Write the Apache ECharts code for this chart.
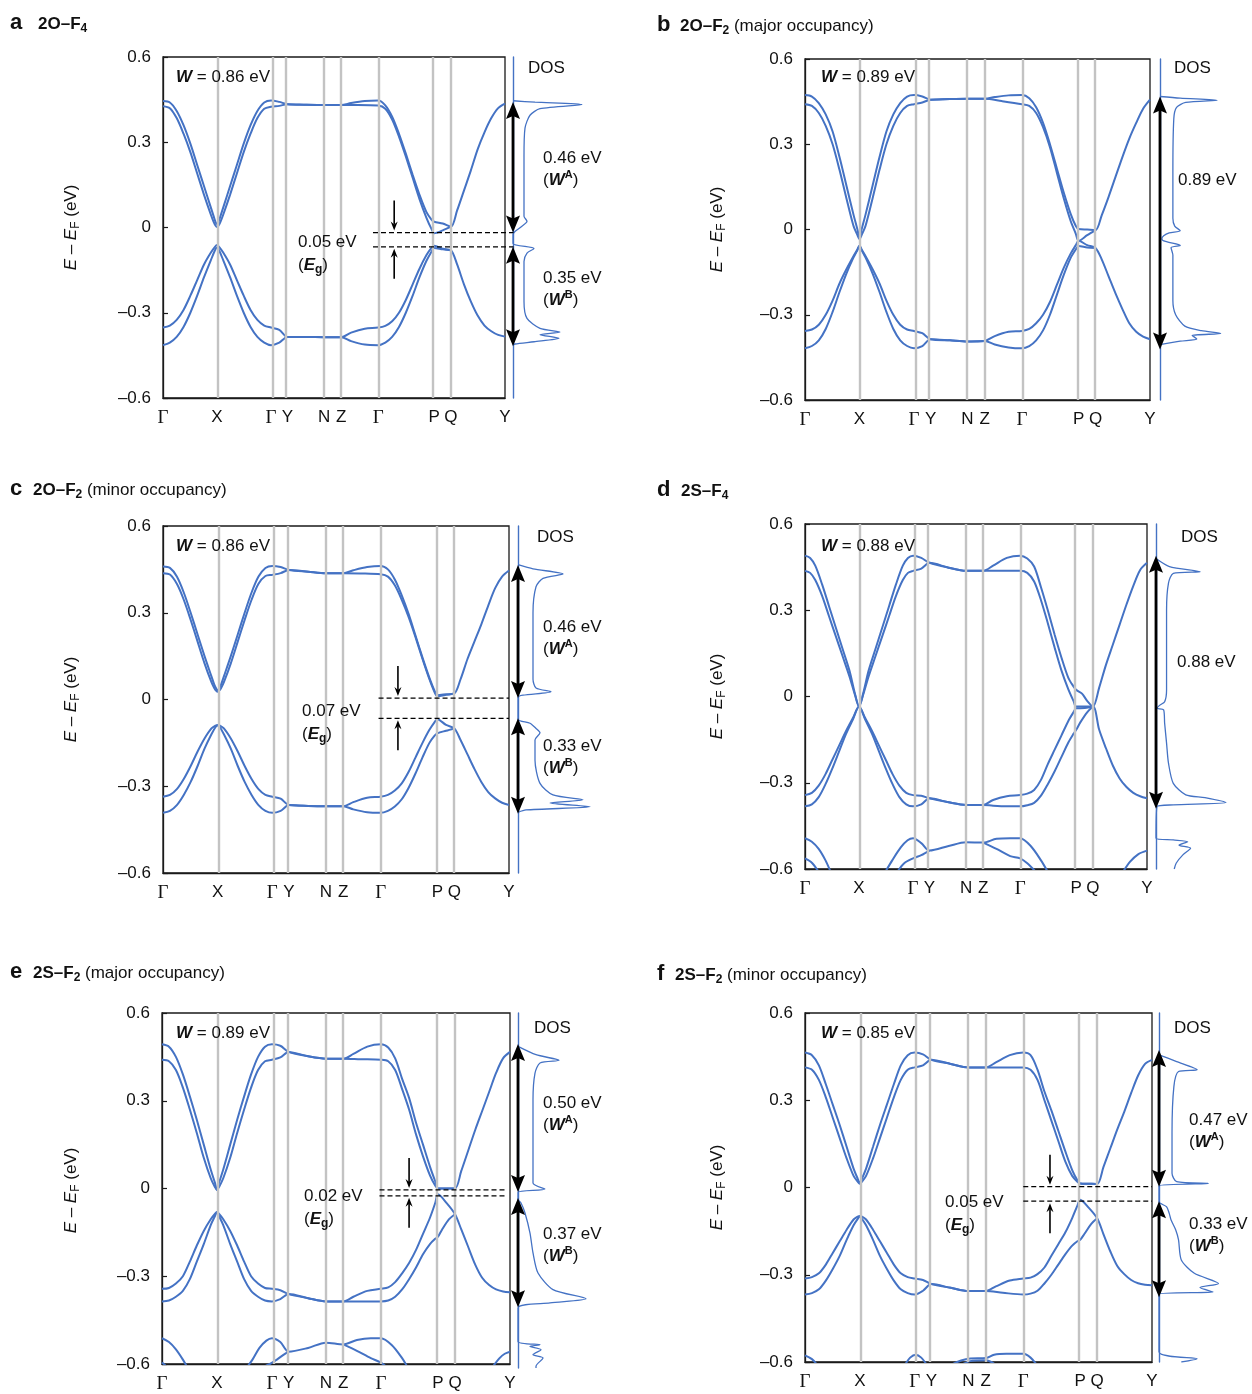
<!DOCTYPE html>
<html>
<head>
<meta charset="utf-8">
<script src="https://cdn.jsdelivr.net/npm/echarts@6/dist/echarts.min.js"></script>
<style>
html, body { margin: 0; padding: 0; background: #fff; }
#chart { width: 1252px; height: 1394px; }
</style>
</head>
<body>
<div id="chart"></div>
<script>
// High-symmetry path (fraction of total k-path length) and its labels
const kTicks = [0, 0.158, 0.316, 0.364, 0.471, 0.521, 0.629, 0.793, 0.842, 1];
const kNames = ['Γ', 'X', 'Γ', 'Y', 'N', 'Z', 'Γ', 'P', 'Q', 'Y'];

// ---------- a: 2O–F4 ----------
const aUp1 = [[0,0.445],[0.02,0.44],[0.04,0.41],[0.06,0.36],[0.08,0.295],[0.1,0.22],[0.12,0.145],[0.14,0.07],[0.148,0.04],[0.154,0.018],[0.158,0.012],[0.162,0.018],[0.168,0.04],[0.176,0.07],[0.196,0.145],[0.216,0.22],[0.236,0.295],[0.256,0.36],[0.276,0.41],[0.296,0.44],[0.316,0.447],[0.34,0.442],[0.364,0.434],[0.42,0.432],[0.471,0.431],[0.521,0.431],[0.55,0.438],[0.59,0.445],[0.629,0.447],[0.65,0.43],[0.67,0.39],[0.69,0.33],[0.71,0.26],[0.73,0.185],[0.75,0.115],[0.77,0.055],[0.785,0.028],[0.793,0.02],[0.818,0.014],[0.842,0.003],[0.86,0.06],[0.88,0.13],[0.9,0.2],[0.92,0.275],[0.94,0.335],[0.96,0.385],[0.98,0.42],[1,0.436]];
const aUp2 = [[0,0.427],[0.02,0.42],[0.04,0.385],[0.06,0.33],[0.08,0.265],[0.1,0.19],[0.12,0.115],[0.14,0.045],[0.148,0.02],[0.154,0.006],[0.158,0.002],[0.162,0.006],[0.168,0.02],[0.176,0.045],[0.196,0.115],[0.216,0.19],[0.236,0.265],[0.256,0.33],[0.276,0.385],[0.296,0.418],[0.316,0.425],[0.34,0.428],[0.364,0.434],[0.42,0.432],[0.471,0.431],[0.521,0.431],[0.57,0.431],[0.629,0.429],[0.65,0.418],[0.67,0.38],[0.69,0.32],[0.71,0.25],[0.73,0.175],[0.75,0.1],[0.77,0.035],[0.785,-0.005],[0.793,-0.02],[0.818,-0.01],[0.842,0.003]];
const aLo1 = [[0,-0.352],[0.02,-0.345],[0.04,-0.325],[0.06,-0.29],[0.08,-0.24],[0.1,-0.185],[0.12,-0.13],[0.14,-0.088],[0.152,-0.068],[0.158,-0.062],[0.164,-0.068],[0.176,-0.088],[0.196,-0.13],[0.216,-0.185],[0.236,-0.24],[0.256,-0.29],[0.276,-0.325],[0.296,-0.345],[0.316,-0.352],[0.34,-0.36],[0.364,-0.385],[0.42,-0.385],[0.471,-0.386],[0.521,-0.386],[0.55,-0.37],[0.59,-0.356],[0.629,-0.352],[0.65,-0.346],[0.67,-0.33],[0.69,-0.3],[0.71,-0.255],[0.73,-0.2],[0.75,-0.145],[0.77,-0.098],[0.785,-0.072],[0.793,-0.064],[0.818,-0.075],[0.842,-0.08],[0.86,-0.13],[0.88,-0.2],[0.9,-0.26],[0.92,-0.31],[0.94,-0.345],[0.96,-0.365],[0.98,-0.378],[1,-0.384]];
const aLo2 = [[0,-0.414],[0.02,-0.405],[0.04,-0.385],[0.06,-0.35],[0.08,-0.3],[0.1,-0.24],[0.12,-0.175],[0.14,-0.115],[0.152,-0.08],[0.158,-0.07],[0.164,-0.08],[0.176,-0.115],[0.196,-0.175],[0.216,-0.24],[0.236,-0.3],[0.256,-0.35],[0.276,-0.385],[0.296,-0.405],[0.316,-0.414],[0.34,-0.405],[0.364,-0.385],[0.42,-0.385],[0.471,-0.386],[0.521,-0.386],[0.55,-0.4],[0.59,-0.412],[0.629,-0.414],[0.65,-0.405],[0.67,-0.385],[0.69,-0.35],[0.71,-0.3],[0.73,-0.24],[0.75,-0.175],[0.77,-0.118],[0.785,-0.085],[0.793,-0.072],[0.818,-0.077],[0.842,-0.08]];
const aDos = [[0,0.446],[22,0.441],[69,0.433],[27,0.418],[17,0.395],[12,0.35],[11,0.25],[11,0.1],[11,0.04],[14,0.022],[8,0.002],[2,-0.014],[0,-0.024],[0,-0.056],[21,-0.074],[14,-0.09],[11,-0.12],[11,-0.26],[14,-0.32],[27,-0.355],[47,-0.368],[27,-0.377],[46,-0.39],[21,-0.402],[2,-0.41],[0,-0.414]];
const aGap = { top: 0.442, wA: 0.46, eg: 0.05, wB: 0.35 };

// ---------- b: 2O–F2 (major occupancy) ----------
const bUp1 = [[0,0.473],[0.02,0.468],[0.04,0.445],[0.06,0.405],[0.08,0.345],[0.1,0.255],[0.12,0.155],[0.14,0.055],[0.152,0],[0.158,-0.03],[0.164,0],[0.176,0.055],[0.196,0.155],[0.216,0.255],[0.236,0.345],[0.256,0.405],[0.276,0.445],[0.296,0.468],[0.316,0.473],[0.34,0.468],[0.364,0.457],[0.42,0.459],[0.471,0.46],[0.521,0.46],[0.55,0.466],[0.59,0.472],[0.629,0.473],[0.65,0.462],[0.67,0.43],[0.69,0.375],[0.71,0.3],[0.73,0.215],[0.75,0.13],[0.77,0.055],[0.785,0.012],[0.793,0.002],[0.818,0],[0.842,-0.002],[0.86,0.05],[0.88,0.115],[0.9,0.185],[0.92,0.255],[0.94,0.32],[0.96,0.375],[0.98,0.425],[1,0.457]];
const bUp2 = [[0,0.441],[0.02,0.435],[0.04,0.41],[0.06,0.365],[0.08,0.3],[0.1,0.21],[0.12,0.11],[0.14,0.015],[0.152,-0.02],[0.158,-0.035],[0.164,-0.02],[0.176,0.015],[0.196,0.11],[0.216,0.21],[0.236,0.3],[0.256,0.365],[0.276,0.41],[0.296,0.435],[0.316,0.441],[0.34,0.447],[0.364,0.457],[0.42,0.459],[0.471,0.46],[0.521,0.46],[0.57,0.452],[0.629,0.441],[0.65,0.435],[0.67,0.41],[0.69,0.36],[0.71,0.29],[0.73,0.2],[0.75,0.11],[0.77,0.03],[0.785,-0.015],[0.793,-0.04],[0.818,-0.02],[0.842,-0.002]];
const bLo1 = [[0,-0.357],[0.02,-0.352],[0.04,-0.335],[0.06,-0.3],[0.08,-0.25],[0.1,-0.19],[0.12,-0.14],[0.14,-0.095],[0.152,-0.07],[0.158,-0.056],[0.164,-0.07],[0.176,-0.095],[0.196,-0.14],[0.216,-0.19],[0.236,-0.25],[0.256,-0.3],[0.276,-0.335],[0.296,-0.352],[0.316,-0.357],[0.34,-0.365],[0.364,-0.386],[0.42,-0.39],[0.471,-0.394],[0.521,-0.392],[0.55,-0.375],[0.59,-0.36],[0.629,-0.357],[0.65,-0.35],[0.67,-0.33],[0.69,-0.3],[0.71,-0.255],[0.73,-0.195],[0.75,-0.135],[0.77,-0.085],[0.785,-0.055],[0.793,-0.04],[0.818,-0.055],[0.842,-0.065],[0.86,-0.105],[0.88,-0.165],[0.9,-0.225],[0.92,-0.28],[0.94,-0.33],[0.96,-0.36],[0.98,-0.377],[1,-0.386]];
const bLo2 = [[0,-0.418],[0.02,-0.41],[0.04,-0.39],[0.06,-0.35],[0.08,-0.29],[0.1,-0.22],[0.12,-0.155],[0.14,-0.1],[0.152,-0.072],[0.158,-0.058],[0.164,-0.072],[0.176,-0.1],[0.196,-0.155],[0.216,-0.22],[0.236,-0.29],[0.256,-0.35],[0.276,-0.39],[0.296,-0.41],[0.316,-0.418],[0.34,-0.41],[0.364,-0.386],[0.42,-0.39],[0.471,-0.394],[0.521,-0.392],[0.55,-0.405],[0.59,-0.415],[0.629,-0.418],[0.65,-0.41],[0.67,-0.39],[0.69,-0.355],[0.71,-0.3],[0.73,-0.23],[0.75,-0.16],[0.77,-0.1],[0.785,-0.07],[0.793,-0.058],[0.818,-0.063],[0.842,-0.065]];
const bDos = [[0,0.468],[22,0.462],[62,0.455],[28,0.447],[18,0.43],[15,0.39],[14,0.2],[14,0.04],[16,0.012],[22,-0.004],[10,-0.012],[4,-0.022],[2,-0.033],[6,-0.042],[22,-0.056],[12,-0.064],[14,-0.09],[14,-0.25],[17,-0.3],[27,-0.34],[45,-0.356],[66,-0.366],[35,-0.373],[40,-0.385],[22,-0.393],[0,-0.405]];
const bSpan = { top: 0.468, w: 0.89 };

// ---------- c: 2O–F2 (minor occupancy) ----------
const cUp1 = [[0,0.46],[0.02,0.455],[0.04,0.425],[0.06,0.37],[0.08,0.3],[0.1,0.225],[0.12,0.15],[0.14,0.08],[0.148,0.052],[0.154,0.037],[0.158,0.032],[0.162,0.037],[0.168,0.052],[0.176,0.08],[0.196,0.15],[0.216,0.225],[0.236,0.3],[0.256,0.37],[0.276,0.425],[0.296,0.455],[0.316,0.462],[0.34,0.458],[0.364,0.448],[0.42,0.442],[0.471,0.437],[0.521,0.437],[0.55,0.447],[0.59,0.458],[0.629,0.462],[0.65,0.45],[0.67,0.415],[0.69,0.36],[0.71,0.295],[0.73,0.22],[0.75,0.145],[0.77,0.075],[0.785,0.03],[0.793,0.015],[0.818,0.018],[0.842,0.021],[0.86,0.07],[0.88,0.14],[0.9,0.2],[0.92,0.26],[0.94,0.325],[0.96,0.385],[0.98,0.425],[1,0.446]];
const cUp2 = [[0,0.437],[0.02,0.432],[0.04,0.4],[0.06,0.345],[0.08,0.275],[0.1,0.2],[0.12,0.125],[0.14,0.06],[0.148,0.04],[0.154,0.03],[0.158,0.027],[0.162,0.03],[0.168,0.04],[0.176,0.06],[0.196,0.125],[0.216,0.2],[0.236,0.275],[0.256,0.345],[0.276,0.4],[0.296,0.427],[0.316,0.431],[0.34,0.437],[0.364,0.448],[0.42,0.442],[0.471,0.437],[0.521,0.437],[0.57,0.436],[0.629,0.433],[0.65,0.425],[0.67,0.395],[0.69,0.345],[0.71,0.285],[0.73,0.215],[0.75,0.14],[0.77,0.07],[0.785,0.025],[0.793,0.012],[0.818,0.016],[0.842,0.021]];
const cLo1 = [[0,-0.336],[0.02,-0.33],[0.04,-0.31],[0.06,-0.275],[0.08,-0.23],[0.1,-0.18],[0.12,-0.135],[0.14,-0.1],[0.152,-0.09],[0.158,-0.088],[0.164,-0.09],[0.176,-0.1],[0.196,-0.135],[0.216,-0.18],[0.236,-0.23],[0.256,-0.275],[0.276,-0.31],[0.296,-0.33],[0.316,-0.336],[0.34,-0.343],[0.364,-0.365],[0.42,-0.368],[0.471,-0.369],[0.521,-0.369],[0.55,-0.355],[0.59,-0.34],[0.629,-0.336],[0.65,-0.33],[0.67,-0.315],[0.69,-0.29],[0.71,-0.25],[0.73,-0.2],[0.75,-0.15],[0.77,-0.105],[0.785,-0.078],[0.793,-0.068],[0.818,-0.088],[0.842,-0.1],[0.86,-0.14],[0.88,-0.19],[0.9,-0.24],[0.92,-0.285],[0.94,-0.32],[0.96,-0.342],[0.98,-0.357],[1,-0.365]];
const cLo2 = [[0,-0.392],[0.02,-0.385],[0.04,-0.365],[0.06,-0.33],[0.08,-0.285],[0.1,-0.23],[0.12,-0.17],[0.14,-0.12],[0.152,-0.095],[0.158,-0.09],[0.164,-0.095],[0.176,-0.12],[0.196,-0.17],[0.216,-0.23],[0.236,-0.285],[0.256,-0.33],[0.276,-0.365],[0.296,-0.385],[0.316,-0.392],[0.34,-0.385],[0.364,-0.365],[0.42,-0.368],[0.471,-0.369],[0.521,-0.369],[0.55,-0.38],[0.59,-0.39],[0.629,-0.392],[0.65,-0.385],[0.67,-0.37],[0.69,-0.345],[0.71,-0.305],[0.73,-0.255],[0.75,-0.2],[0.77,-0.15],[0.785,-0.125],[0.793,-0.117],[0.818,-0.108],[0.842,-0.1]];
const cDos = [[0,0.466],[15,0.452],[45,0.434],[25,0.419],[18,0.39],[15,0.3],[15,0.07],[18,0.04],[33,0.027],[5,0.015],[0,0.008],[0,-0.068],[12,-0.082],[18,-0.1],[22,-0.115],[17,-0.14],[17,-0.21],[22,-0.29],[35,-0.33],[65,-0.347],[32,-0.358],[72,-0.371],[8,-0.382],[0,-0.39]];
const cGap = { top: 0.465, wA: 0.46, eg: 0.07, wB: 0.33 };

// ---------- d: 2S–F4 ----------
const dUp1 = [[0,0.49],[0.015,0.482],[0.03,0.455],[0.05,0.39],[0.07,0.315],[0.09,0.24],[0.11,0.165],[0.13,0.09],[0.145,0.015],[0.158,-0.035],[0.171,0.015],[0.186,0.09],[0.206,0.165],[0.226,0.24],[0.246,0.315],[0.266,0.39],[0.286,0.455],[0.301,0.482],[0.316,0.49],[0.34,0.482],[0.364,0.465],[0.42,0.448],[0.471,0.437],[0.521,0.437],[0.55,0.455],[0.59,0.482],[0.629,0.49],[0.65,0.48],[0.67,0.452],[0.69,0.38],[0.71,0.3],[0.73,0.215],[0.75,0.135],[0.77,0.065],[0.785,0.035],[0.793,0.023],[0.81,0.01],[0.825,-0.015],[0.842,-0.035],[0.86,0.03],[0.88,0.11],[0.9,0.18],[0.92,0.25],[0.94,0.32],[0.96,0.385],[0.98,0.44],[1,0.465]];
const dUp2 = [[0,0.437],[0.015,0.43],[0.03,0.405],[0.05,0.35],[0.07,0.28],[0.09,0.21],[0.11,0.14],[0.13,0.07],[0.145,0.01],[0.158,-0.035],[0.171,0.01],[0.186,0.07],[0.206,0.14],[0.226,0.21],[0.246,0.28],[0.266,0.35],[0.286,0.405],[0.301,0.43],[0.316,0.437],[0.34,0.445],[0.364,0.465],[0.42,0.448],[0.471,0.437],[0.521,0.437],[0.57,0.437],[0.629,0.437],[0.65,0.43],[0.67,0.4],[0.69,0.335],[0.71,0.255],[0.73,0.17],[0.75,0.09],[0.77,0.025],[0.785,-0.015],[0.793,-0.035],[0.818,-0.035],[0.842,-0.035]];
const dLo1 = [[0,-0.343],[0.02,-0.335],[0.04,-0.31],[0.06,-0.27],[0.08,-0.22],[0.1,-0.17],[0.12,-0.12],[0.14,-0.075],[0.158,-0.035],[0.176,-0.075],[0.196,-0.12],[0.216,-0.17],[0.236,-0.22],[0.256,-0.27],[0.276,-0.31],[0.296,-0.335],[0.316,-0.343],[0.34,-0.345],[0.364,-0.354],[0.42,-0.368],[0.471,-0.377],[0.521,-0.377],[0.55,-0.36],[0.59,-0.347],[0.629,-0.343],[0.65,-0.338],[0.67,-0.325],[0.69,-0.29],[0.71,-0.235],[0.73,-0.185],[0.75,-0.135],[0.77,-0.085],[0.785,-0.055],[0.793,-0.041],[0.818,-0.04],[0.842,-0.035],[0.86,-0.115],[0.88,-0.18],[0.9,-0.24],[0.92,-0.285],[0.94,-0.315],[0.96,-0.335],[0.98,-0.347],[1,-0.354]];
const dLo2 = [[0,-0.382],[0.02,-0.375],[0.04,-0.35],[0.06,-0.305],[0.08,-0.25],[0.1,-0.19],[0.12,-0.13],[0.14,-0.08],[0.158,-0.035],[0.176,-0.08],[0.196,-0.13],[0.216,-0.19],[0.236,-0.25],[0.256,-0.305],[0.276,-0.35],[0.296,-0.375],[0.316,-0.382],[0.34,-0.375],[0.364,-0.354],[0.42,-0.368],[0.471,-0.377],[0.521,-0.377],[0.55,-0.38],[0.59,-0.382],[0.629,-0.382],[0.65,-0.378],[0.67,-0.37],[0.69,-0.345],[0.71,-0.305],[0.73,-0.26],[0.75,-0.21],[0.77,-0.16],[0.785,-0.13],[0.793,-0.116],[0.805,-0.09],[0.825,-0.055],[0.842,-0.035]];
const dDeep1 = [[0,-0.493],[0.02,-0.505],[0.04,-0.53],[0.06,-0.57],[0.075,-0.61]];
const dDeep2 = [[0,-0.563],[0.02,-0.578],[0.04,-0.61]];
const dDeep3 = [[0.235,-0.61],[0.255,-0.57],[0.28,-0.525],[0.3,-0.5],[0.316,-0.493],[0.34,-0.51],[0.364,-0.536],[0.42,-0.52],[0.471,-0.507],[0.521,-0.508],[0.56,-0.495],[0.6,-0.493],[0.629,-0.493],[0.66,-0.52],[0.69,-0.57],[0.71,-0.61]];
const dDeep4 = [[0.27,-0.61],[0.29,-0.58],[0.316,-0.563],[0.34,-0.552],[0.364,-0.536]];
const dDeep5 = [[0.521,-0.508],[0.56,-0.53],[0.6,-0.555],[0.629,-0.563],[0.65,-0.58],[0.675,-0.61]];
const dDeep6 = [[0.93,-0.61],[0.95,-0.575],[0.975,-0.548],[1,-0.536]];
const dDos = [[0,0.48],[14,0.452],[46,0.434],[18,0.428],[13,0.394],[11,0.3],[11,0.023],[9,-0.018],[4,-0.03],[1,-0.041],[8,-0.047],[9,-0.093],[11,-0.162],[13,-0.232],[18,-0.302],[31,-0.342],[51,-0.352],[73,-0.369],[18,-0.377],[1,-0.383],[0,-0.493],[18,-0.499],[33,-0.505],[24,-0.517],[36,-0.528],[28,-0.551],[21,-0.58],[19,-0.6]];
const dSpan = { top: 0.49, w: 0.88 };

// ---------- e: 2S–F2 (major occupancy) ----------
const eUp1 = [[0,0.493],[0.02,0.485],[0.04,0.45],[0.06,0.39],[0.08,0.315],[0.1,0.235],[0.12,0.15],[0.14,0.065],[0.152,0.02],[0.158,-0.005],[0.164,0.02],[0.176,0.065],[0.196,0.15],[0.216,0.235],[0.236,0.315],[0.256,0.39],[0.276,0.45],[0.296,0.485],[0.316,0.493],[0.34,0.488],[0.364,0.467],[0.42,0.452],[0.471,0.444],[0.521,0.444],[0.55,0.46],[0.59,0.485],[0.629,0.493],[0.65,0.482],[0.67,0.445],[0.69,0.375],[0.71,0.31],[0.73,0.225],[0.75,0.15],[0.77,0.075],[0.785,0.025],[0.793,0],[0.818,0],[0.842,0],[0.86,0.06],[0.88,0.13],[0.9,0.2],[0.92,0.265],[0.94,0.33],[0.96,0.395],[0.98,0.445],[1,0.467]];
const eUp2 = [[0,0.44],[0.02,0.435],[0.04,0.405],[0.06,0.345],[0.08,0.27],[0.1,0.19],[0.12,0.105],[0.14,0.035],[0.152,0.005],[0.158,-0.005],[0.164,0.005],[0.176,0.035],[0.196,0.105],[0.216,0.19],[0.236,0.27],[0.256,0.345],[0.276,0.405],[0.296,0.435],[0.316,0.44],[0.34,0.448],[0.364,0.467],[0.42,0.452],[0.471,0.444],[0.521,0.444],[0.57,0.442],[0.629,0.44],[0.65,0.435],[0.67,0.405],[0.69,0.34],[0.71,0.27],[0.73,0.185],[0.75,0.11],[0.77,0.045],[0.785,0.01],[0.793,0],[0.818,0],[0.842,0]];
const eLo1 = [[0,-0.343],[0.02,-0.34],[0.04,-0.325],[0.06,-0.3],[0.08,-0.25],[0.1,-0.195],[0.12,-0.145],[0.14,-0.105],[0.152,-0.087],[0.158,-0.08],[0.164,-0.087],[0.176,-0.105],[0.196,-0.145],[0.216,-0.195],[0.236,-0.25],[0.256,-0.3],[0.276,-0.325],[0.296,-0.34],[0.316,-0.343],[0.34,-0.348],[0.364,-0.361],[0.42,-0.375],[0.471,-0.386],[0.521,-0.386],[0.55,-0.37],[0.59,-0.35],[0.629,-0.343],[0.65,-0.338],[0.67,-0.32],[0.69,-0.29],[0.71,-0.255],[0.73,-0.21],[0.75,-0.155],[0.77,-0.1],[0.785,-0.05],[0.793,-0.02],[0.818,-0.05],[0.842,-0.088],[0.86,-0.14],[0.88,-0.2],[0.9,-0.26],[0.92,-0.305],[0.94,-0.33],[0.96,-0.345],[0.98,-0.352],[1,-0.355]];
const eLo2 = [[0,-0.386],[0.02,-0.383],[0.04,-0.37],[0.06,-0.35],[0.08,-0.31],[0.1,-0.25],[0.12,-0.19],[0.14,-0.125],[0.152,-0.095],[0.158,-0.08],[0.164,-0.095],[0.176,-0.125],[0.196,-0.19],[0.216,-0.25],[0.236,-0.31],[0.256,-0.35],[0.276,-0.37],[0.296,-0.383],[0.316,-0.386],[0.34,-0.378],[0.364,-0.361],[0.42,-0.375],[0.471,-0.386],[0.521,-0.386],[0.57,-0.386],[0.629,-0.386],[0.65,-0.383],[0.67,-0.37],[0.69,-0.345],[0.71,-0.31],[0.73,-0.27],[0.75,-0.225],[0.77,-0.19],[0.785,-0.172],[0.793,-0.165],[0.805,-0.14],[0.825,-0.105],[0.842,-0.088]];
const eDeep1 = [[0,-0.512],[0.02,-0.525],[0.04,-0.55],[0.06,-0.585],[0.072,-0.61]];
const eDeep2 = [[0,-0.595],[0.015,-0.61]];
const eDeep3 = [[0.245,-0.61],[0.26,-0.585],[0.28,-0.545],[0.3,-0.52],[0.316,-0.512],[0.34,-0.525],[0.364,-0.558],[0.42,-0.545],[0.471,-0.527],[0.521,-0.533],[0.56,-0.518],[0.6,-0.512],[0.629,-0.512],[0.66,-0.535],[0.69,-0.58],[0.705,-0.61]];
const eDeep4 = [[0.29,-0.61],[0.31,-0.6],[0.33,-0.585],[0.35,-0.568],[0.364,-0.558]];
const eDeep5 = [[0.521,-0.533],[0.56,-0.555],[0.6,-0.58],[0.629,-0.595],[0.645,-0.61]];
const eDeep6 = [[0.95,-0.61],[0.97,-0.58],[0.985,-0.565],[1,-0.558]];
const eDos = [[0,0.487],[18,0.459],[41,0.44],[22,0.431],[17,0.397],[15,0.307],[15,0.025],[27,0.005],[0,-0.006],[0,-0.03],[3,-0.042],[7,-0.076],[12,-0.144],[15,-0.211],[20,-0.279],[35,-0.335],[68,-0.366],[32,-0.38],[0,-0.397],[0,-0.51],[22,-0.521],[12,-0.527],[23,-0.538],[15,-0.555],[25,-0.566],[18,-0.594],[18,-0.6]];
const eGap = { top: 0.495, wA: 0.50, eg: 0.02, wB: 0.37 };

// ---------- f: 2S–F2 (minor occupancy) ----------
const fUp1 = [[0,0.464],[0.02,0.455],[0.04,0.42],[0.06,0.355],[0.08,0.285],[0.1,0.215],[0.12,0.14],[0.14,0.065],[0.152,0.03],[0.158,0.015],[0.164,0.03],[0.176,0.065],[0.196,0.14],[0.216,0.215],[0.236,0.285],[0.256,0.355],[0.276,0.42],[0.296,0.455],[0.316,0.464],[0.34,0.458],[0.364,0.439],[0.42,0.425],[0.471,0.413],[0.521,0.413],[0.55,0.43],[0.59,0.455],[0.629,0.464],[0.65,0.455],[0.67,0.405],[0.69,0.33],[0.71,0.265],[0.73,0.195],[0.75,0.125],[0.77,0.06],[0.785,0.025],[0.793,0.014],[0.818,0.013],[0.842,0.012],[0.86,0.07],[0.88,0.135],[0.9,0.2],[0.92,0.26],[0.94,0.325],[0.96,0.385],[0.98,0.425],[1,0.439]];
const fUp2 = [[0,0.413],[0.02,0.405],[0.04,0.37],[0.06,0.31],[0.08,0.24],[0.1,0.17],[0.12,0.1],[0.14,0.04],[0.152,0.02],[0.158,0.013],[0.164,0.02],[0.176,0.04],[0.196,0.1],[0.216,0.17],[0.236,0.24],[0.256,0.31],[0.276,0.37],[0.296,0.405],[0.316,0.413],[0.34,0.42],[0.364,0.439],[0.42,0.425],[0.471,0.413],[0.521,0.413],[0.57,0.413],[0.629,0.413],[0.65,0.405],[0.67,0.37],[0.69,0.3],[0.71,0.23],[0.73,0.16],[0.75,0.09],[0.77,0.04],[0.785,0.02],[0.793,0.014],[0.818,0.013],[0.842,0.012]];
const fLo1 = [[0,-0.313],[0.02,-0.308],[0.04,-0.295],[0.06,-0.265],[0.08,-0.225],[0.1,-0.185],[0.12,-0.145],[0.14,-0.11],[0.152,-0.1],[0.158,-0.098],[0.164,-0.1],[0.176,-0.11],[0.196,-0.145],[0.216,-0.185],[0.236,-0.225],[0.256,-0.265],[0.276,-0.295],[0.296,-0.308],[0.316,-0.313],[0.34,-0.318],[0.364,-0.332],[0.42,-0.345],[0.471,-0.356],[0.521,-0.356],[0.55,-0.34],[0.59,-0.32],[0.629,-0.313],[0.65,-0.31],[0.67,-0.298],[0.69,-0.275],[0.71,-0.235],[0.73,-0.195],[0.75,-0.155],[0.77,-0.105],[0.785,-0.062],[0.793,-0.042],[0.818,-0.07],[0.842,-0.106],[0.86,-0.16],[0.88,-0.22],[0.9,-0.27],[0.92,-0.298],[0.94,-0.318],[0.96,-0.329],[0.98,-0.334],[1,-0.336]];
const fLo2 = [[0,-0.368],[0.02,-0.363],[0.04,-0.35],[0.06,-0.32],[0.08,-0.28],[0.1,-0.235],[0.12,-0.18],[0.14,-0.13],[0.152,-0.108],[0.158,-0.1],[0.164,-0.108],[0.176,-0.13],[0.196,-0.18],[0.216,-0.235],[0.236,-0.28],[0.256,-0.32],[0.276,-0.35],[0.296,-0.363],[0.316,-0.368],[0.34,-0.355],[0.364,-0.332],[0.42,-0.345],[0.471,-0.356],[0.521,-0.356],[0.57,-0.362],[0.629,-0.368],[0.65,-0.365],[0.67,-0.355],[0.69,-0.33],[0.71,-0.3],[0.73,-0.265],[0.75,-0.23],[0.77,-0.2],[0.785,-0.185],[0.793,-0.18],[0.805,-0.16],[0.825,-0.125],[0.842,-0.106]];
const fDeep1 = [[0,-0.577],[0.02,-0.59],[0.035,-0.61]];
const fDeep2 = [[0.288,-0.61],[0.303,-0.585],[0.319,-0.575],[0.335,-0.585],[0.351,-0.61]];
const fDeep3 = [[0.42,-0.61],[0.45,-0.595],[0.476,-0.588],[0.522,-0.586],[0.545,-0.575],[0.58,-0.572],[0.63,-0.572],[0.65,-0.585],[0.668,-0.61]];
const fDeep4 = [[0.45,-0.61],[0.476,-0.597],[0.522,-0.594],[0.55,-0.61]];
const fDos = [[0,0.456],[19,0.433],[41,0.405],[21,0.399],[16,0.347],[14,0.187],[14,0.049],[19,0.02],[53,0.014],[0,0.005],[0,-0.049],[8,-0.066],[11,-0.089],[13,-0.112],[18,-0.146],[21,-0.18],[24,-0.249],[38,-0.295],[64,-0.33],[44,-0.344],[58,-0.359],[0,-0.367],[0,-0.565],[41,-0.589],[24,-0.6]];
const fGap = { top: 0.473, wA: 0.47, eg: 0.05, wB: 0.33 };

// Panel list: which arrays go where, plus page layout
const panels = [
  { letter: 'a', formula: '2O–F', sub: '4', note: '', W: 0.86, bands: [aUp1, aUp2, aLo1, aLo2], dos: aDos, gap: aGap,
    box: [163, 57, 342, 341], dosLeft: 513, head: [10, 23, 38], nameX: 71,
    wAt: [176, 77], dosAt: [528, 68], wAAt: [543, 158], wBAt: [543, 278], egAt: [298, 242], egK: 0.676, dashK: 0.614, dashEnd: 1.025 },
  { letter: 'b', formula: '2O–F', sub: '2', note: ' (major occupancy)', W: 0.89, bands: [bUp1, bUp2, bLo1, bLo2], dos: bDos, span: bSpan,
    box: [805, 59, 345, 341], dosLeft: 1160, head: [657, 25, 680], nameX: 717,
    wAt: [821, 77], dosAt: [1174, 68], spanAt: [1178, 180] },
  { letter: 'c', formula: '2O–F', sub: '2', note: ' (minor occupancy)', W: 0.86, bands: [cUp1, cUp2, cLo1, cLo2], dos: cDos, gap: cGap,
    box: [163, 526, 346, 347], dosLeft: 518, head: [10, 489, 33], nameX: 71,
    wAt: [176, 546], dosAt: [537, 537], wAAt: [543, 627], wBAt: [543, 746], egAt: [302, 711], egK: 0.679, dashK: 0.623, dashEnd: 1 },
  { letter: 'd', formula: '2S–F', sub: '4', note: '', W: 0.88, bands: [dUp1, dUp2, dLo1, dLo2, dDeep1, dDeep2, dDeep3, dDeep4, dDeep5, dDeep6], dos: dDos, span: dSpan,
    box: [805, 524, 342, 345], dosLeft: 1156, head: [657, 490, 681], nameX: 717,
    wAt: [821, 546], dosAt: [1181, 537], spanAt: [1177, 662] },
  { letter: 'e', formula: '2S–F', sub: '2', note: ' (major occupancy)', W: 0.89, bands: [eUp1, eUp2, eLo1, eLo2, eDeep1, eDeep2, eDeep3, eDeep4, eDeep5, eDeep6], dos: eDos, gap: eGap,
    box: [162, 1013, 348, 355], dosLeft: 518, head: [10, 972, 33], nameX: 71,
    wAt: [176, 1033], dosAt: [534, 1028], wAAt: [543, 1103], wBAt: [543, 1234], egAt: [304, 1196], egK: 0.71, dashK: 0.625, dashEnd: 0.985 },
  { letter: 'f', formula: '2S–F', sub: '2', note: ' (minor occupancy)', W: 0.85, bands: [fUp1, fUp2, fLo1, fLo2, fDeep1, fDeep2, fDeep3, fDeep4], dos: fDos, gap: fGap,
    box: [805, 1013, 347, 349], dosLeft: 1159, head: [657, 974, 675], nameX: 717,
    wAt: [821, 1033], dosAt: [1174, 1028], wAAt: [1189, 1120], wBAt: [1189, 1224], egAt: [945, 1202], egK: 0.706, dashK: 0.629, dashEnd: 1 }
];

const FONT = '"Liberation Sans", Arial, Helvetica, sans-serif';
const SERIF = '"Liberation Serif", "DejaVu Serif", serif';
const BLUE = '#4472c4';
const INK = '#1a1a1a';
const GRIDGREY = '#c3c3c3';

const chart = echarts.init(document.getElementById('chart'), null, { renderer: 'canvas' });

function yFmt(v) {
  if (Math.abs(v) < 1e-9) return '0';
  return v < 0 ? '\u2013' + Math.abs(v).toFixed(1) : v.toFixed(1);
}
function kFmt(v) {
  const i = kTicks.findIndex(k => Math.abs(k - v) < 1e-6);
  if (i < 0) return '';
  return kNames[i] === 'Γ' ? '{g|Γ}' : '{t|' + kNames[i] + '}';
}

const grid = [], xAxis = [], yAxis = [], series = [];
panels.forEach((p, i) => {
  const gb = 2 * i, gd = 2 * i + 1;
  const [L, T, Wd, H] = p.box;
  grid.push({ left: L, top: T, width: Wd, height: H, show: true, borderColor: INK, borderWidth: 1.3, backgroundColor: 'rgba(0,0,0,0)' });
  grid.push({ left: p.dosLeft, top: T, width: 100, height: H });

  xAxis.push({
    gridIndex: gb, type: 'value', min: 0, max: 1,
    axisLine: { show: true, onZero: false, lineStyle: { color: INK, width: 1.3 } },
    axisTick: { show: false }, splitLine: { show: false },
    axisLabel: {
      customValues: kTicks, margin: 11, formatter: kFmt,
      rich: {
        g: { fontFamily: SERIF, fontSize: 19, color: '#111' },
        t: { fontFamily: FONT, fontSize: 17, color: '#111' }
      }
    }
  });
  xAxis.push({ gridIndex: gd, type: 'value', min: 0, max: 100, show: false });

  yAxis.push({
    gridIndex: gb, type: 'value', min: -0.6, max: 0.6, interval: 0.3,
    axisLine: { show: true, onZero: false, lineStyle: { color: INK, width: 1.3 } },
    axisTick: { show: true, inside: true, length: 5, lineStyle: { color: INK, width: 1.2 } },
    splitLine: { show: false },
    axisLabel: { margin: 12, fontFamily: FONT, fontSize: 17, color: '#111', formatter: yFmt }
  });
  yAxis.push({
    gridIndex: gd, type: 'value', min: -0.6, max: 0.6,
    axisLine: { show: true, onZero: false, lineStyle: { color: BLUE, width: 1.4 } },
    axisTick: { show: false }, axisLabel: { show: false }, splitLine: { show: false }
  });

  // grey high-symmetry lines behind the bands
  series.push({
    type: 'line', xAxisIndex: gb, yAxisIndex: gb, data: [[0.5, 0]], symbol: 'none',
    lineStyle: { opacity: 0 }, z: 1, silent: true,
    markLine: {
      silent: true, symbol: ['none', 'none'], label: { show: false },
      lineStyle: { color: GRIDGREY, width: 2.4, type: 'solid' },
      emphasis: { disabled: true },
      data: kTicks.slice(1, 9).map(k => ({ xAxis: k }))
    }
  });

  p.bands.forEach(b => series.push({
    type: 'line', xAxisIndex: gb, yAxisIndex: gb, data: b, symbol: 'none',
    smooth: 0.3, clip: true, silent: true, z: 3,
    lineStyle: { color: BLUE, width: 2 }
  }));

  series.push({
    type: 'line', xAxisIndex: gd, yAxisIndex: gd, data: p.dos, symbol: 'none',
    smooth: 0.25, silent: true, z: 3,
    lineStyle: { color: BLUE, width: 1.3 }
  });
});

chart.setOption({ animation: false, grid, xAxis, yAxis, series });

// ---------- annotations (texts, arrows, dashed gap lines) ----------
const els = [];
const R = {
  n: { fontFamily: FONT, fontSize: 17, fill: '#111', lineHeight: 22 },
  w: { fontFamily: FONT, fontSize: 17, fontWeight: 'bold', fontStyle: 'italic', fill: '#111', lineHeight: 22 },
  sup: { fontFamily: FONT, fontSize: 11, fontWeight: 'bold', fill: '#111', lineHeight: 12, verticalAlign: 'top' },
  sub: { fontFamily: FONT, fontSize: 12, fontWeight: 'bold', fill: '#111', lineHeight: 12, verticalAlign: 'bottom' },
  L: { fontFamily: FONT, fontSize: 22, fontWeight: 'bold', fill: '#111', lineHeight: 24 },
  B: { fontFamily: FONT, fontSize: 17, fontWeight: 'bold', fill: '#111', lineHeight: 22 },
  Bs: { fontFamily: FONT, fontSize: 12, fontWeight: 'bold', fill: '#111', lineHeight: 12, verticalAlign: 'bottom' },
  i: { fontFamily: FONT, fontSize: 17, fontStyle: 'italic', fill: '#111', lineHeight: 22 },
  s: { fontFamily: FONT, fontSize: 12, fill: '#111', lineHeight: 12, verticalAlign: 'bottom' }
};
function text(x, y, t, align, rotation) {
  els.push({
    type: 'text', x, y, rotation: rotation || 0, silent: true, z: 50,
    style: { text: t, rich: R, fontFamily: FONT, fontSize: 17, fill: '#111', align: align || 'left', verticalAlign: 'middle' }
  });
}
function seg(x1, y1, x2, y2, lw, dash) {
  els.push({ type: 'line', silent: true, z: 50, shape: { x1, y1, x2, y2 },
    style: { stroke: '#000', lineWidth: lw, lineDash: dash || null } });
}
function head(x, yTip, dir, w, l) {
  // dir = +1 points down, -1 points up
  const yb = yTip - dir * l;
  els.push({ type: 'polygon', silent: true, z: 51,
    shape: { points: [[x, yTip], [x - w / 2, yb], [x, yb + dir * 3], [x + w / 2, yb]] },
    style: { fill: '#000' } });
}
function doubleArrow(x, y1, y2) {
  seg(x, y1 + 12, x, y2 - 12, 2.8);
  head(x, y1, -1, 14, 17);
  head(x, y2, 1, 14, 17);
}

panels.forEach((p, i) => {
  const gb = 2 * i, gd = 2 * i + 1;
  const [L, T, Wd, H] = p.box;

  text(p.head[0], p.head[1], '{L|' + p.letter + '}');
  text(p.head[2], p.head[1] + 1, '{B|' + p.formula + '}{Bs|' + p.sub + '}' + (p.note ? '{n|' + p.note + '}' : ''));
  text(p.nameX, T + H / 2, '{i|E}{n| \u2013 }{i|E}{s|F}{n| (eV)}', 'center', Math.PI / 2);

  text(p.wAt[0], p.wAt[1], '{w|W}{n| = ' + p.W.toFixed(2) + ' eV}');
  text(p.dosAt[0], p.dosAt[1], '{n|DOS}');

  const axisX = e => chart.convertToPixel({ gridIndex: gd }, [0, e])[0];
  const py = e => chart.convertToPixel({ gridIndex: gd }, [0, e])[1];

  if (p.span) {
    const top = p.span.top, bot = top - p.span.w;
    doubleArrow(axisX(top), py(top), py(bot));
    text(p.spanAt[0], p.spanAt[1], '{n|' + p.span.w.toFixed(2) + ' eV}');
  } else {
    const g = p.gap;
    const cbm = g.top - g.wA, vbm = cbm - g.eg, bot = vbm - g.wB;
    const xA = axisX(0);
    doubleArrow(xA, py(g.top), py(cbm));
    doubleArrow(xA, py(vbm), py(bot));
    text(p.wAAt[0], p.wAAt[1], '{n|' + g.wA.toFixed(2) + ' eV}');
    text(p.wAAt[0], p.wAAt[1] + 22, '{n|(}{w|W}{sup|A}{n|)}');
    text(p.wBAt[0], p.wBAt[1], '{n|' + g.wB.toFixed(2) + ' eV}');
    text(p.wBAt[0], p.wBAt[1] + 22, '{n|(}{w|W}{sup|B}{n|)}');
    text(p.egAt[0], p.egAt[1], '{n|' + g.eg.toFixed(2) + ' eV}');
    text(p.egAt[0], p.egAt[1] + 23, '{n|(}{w|E}{sub|g}{n|)}');

    // dashed band-edge lines
    [cbm, vbm].forEach(e => {
      const a = chart.convertToPixel({ gridIndex: gb }, [p.dashK, e]);
      const b = chart.convertToPixel({ gridIndex: gb }, [p.dashEnd, e]);
      seg(a[0], a[1], b[0], b[1], 1.2, [5, 3]);
    });
    // small gap arrows
    const c = chart.convertToPixel({ gridIndex: gb }, [p.egK, cbm]);
    const v = chart.convertToPixel({ gridIndex: gb }, [p.egK, vbm]);
    seg(c[0], c[1] - 32, c[0], c[1] - 8, 1.6);
    head(c[0], c[1] - 2, 1, 7, 9);
    seg(v[0], v[1] + 32, v[0], v[1] + 8, 1.6);
    head(v[0], v[1] + 2, -1, 7, 9);
  }
});

chart.setOption({ graphic: { elements: els } });
</script>
</body>
</html>
